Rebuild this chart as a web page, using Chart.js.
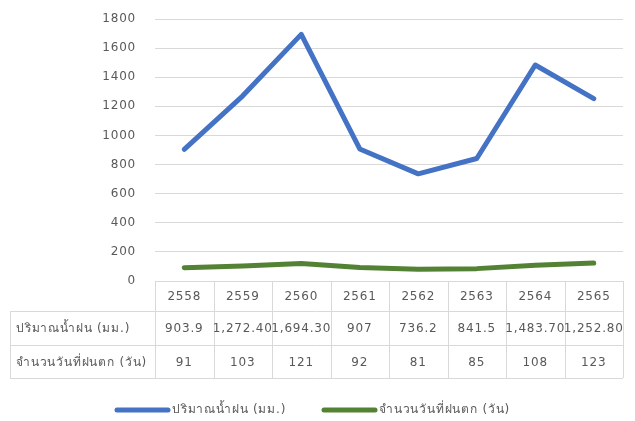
<!DOCTYPE html>
<html>
<head>
<meta charset="utf-8">
<script src="https://cdn.jsdelivr.net/npm/chart.js@4.4.1/dist/chart.umd.min.js"></script>
<style>
  html, body { margin: 0; padding: 0; background: #fff; }
  #wrap { width: 635px; height: 421px; }
</style>
</head>
<body>
<div id="wrap"><canvas id="rainChart" width="635" height="421"></canvas></div>
<script>
// ข้อมูล
const years = ["2558", "2559", "2560", "2561", "2562", "2563", "2564", "2565"];
const rainfall = [903.9, 1272.4, 1694.3, 907, 736.2, 841.5, 1483.7, 1252.8];
const rainDays = [91, 103, 121, 92, 81, 85, 108, 123];
// ข้อความในตาราง (ตามที่แสดงในรูป)
const rainfallText = ["903.9", "1,272.40", "1,694.30", "907", "736.2", "841.5", "1,483.70", "1,252.80"];
const rainDaysText = ["91", "103", "121", "92", "81", "85", "108", "123"];
const seriesNames = ["ปริมาณน้ำฝน (มม.)", "จำนวนวันที่ฝนตก (วัน)"];
const seriesColors = ["#4472C4", "#548235"];

const FONT = "'DejaVu Sans', 'Noto Sans', sans-serif";
const GRAY = "#595959";
const GRID = "#d9d9d9";

// ระยะห่างตัวอักษรให้ใกล้กับต้นฉบับ
const spacing = {
    id: "spacing",
    beforeDraw(chart) {
        chart.ctx.letterSpacing = "0.8px";
    }
};

// ตารางข้อมูลใต้กราฟ + คำอธิบาย
const dataTable = {
    id: "dataTable",
    afterDraw(chart) {
        const ctx = chart.ctx;
        const x = chart.scales.x;
        const area = chart.chartArea;
        const colW = (x.right - x.left) / years.length;
        const left = 10;
        const rows = [area.bottom, 311, 345, 378];

        ctx.save();
        ctx.strokeStyle = GRID;
        ctx.lineWidth = 1;
        ctx.beginPath();
        ctx.moveTo(area.left, rows[0] + 0.5);
        ctx.lineTo(area.right, rows[0] + 0.5);
        for (let r = 1; r < rows.length; r++) {
            ctx.moveTo(left, rows[r] + 0.5);
            ctx.lineTo(area.right, rows[r] + 0.5);
        }
        ctx.moveTo(left + 0.5, rows[1]);
        ctx.lineTo(left + 0.5, rows[3]);
        for (let i = 0; i <= years.length; i++) {
            const px = Math.round(x.left + i * colW) + 0.5;
            ctx.moveTo(px, rows[0]);
            ctx.lineTo(px, rows[3]);
        }
        ctx.stroke();

        ctx.fillStyle = GRAY;
        ctx.font = "12px " + FONT;
        ctx.letterSpacing = "0.8px";
        ctx.textBaseline = "middle";
        ctx.textAlign = "center";
        const rowMid = r => (rows[r] + rows[r + 1]) / 2 + 1;
        years.forEach((y, i) => {
            const cx = x.getPixelForValue(i);
            ctx.fillText(y, cx, rowMid(0));
            ctx.fillText(rainfallText[i], cx, rowMid(1));
            ctx.fillText(rainDaysText[i], cx, rowMid(2));
        });
        ctx.textAlign = "left";
        ctx.fillText(seriesNames[0], 16, rowMid(1));
        ctx.fillText(seriesNames[1], 16, rowMid(2));

        // คำอธิบาย
        const legendY = 410;
        const items = [[115, 0], [322, 1]];
        items.forEach(([lx, k]) => {
            ctx.strokeStyle = seriesColors[k];
            ctx.lineWidth = 5;
            ctx.lineCap = "round";
            ctx.beginPath();
            ctx.moveTo(lx + 2, legendY);
            ctx.lineTo(lx + 53, legendY);
            ctx.stroke();
            ctx.fillText(seriesNames[k], lx + 57, legendY);
        });
        ctx.restore();
    }
};

new Chart(document.getElementById("rainChart"), {
    type: "line",
    data: {
        labels: years,
        datasets: [{
            label: seriesNames[0],
            data: rainfall,
            borderColor: seriesColors[0],
            backgroundColor: seriesColors[0],
            borderWidth: 5,
            pointRadius: 0,
            tension: 0,
            borderCapStyle: "round",
            borderJoinStyle: "round"
        }, {
            label: seriesNames[1],
            data: rainDays,
            borderColor: seriesColors[1],
            backgroundColor: seriesColors[1],
            borderWidth: 5,
            pointRadius: 0,
            tension: 0,
            borderCapStyle: "round",
            borderJoinStyle: "round"
        }]
    },
    options: {
        responsive: false,
        animation: false,
        layout: { padding: { left: 0, right: 12, top: 19, bottom: 140 } },
        plugins: {
            legend: { display: false },
            tooltip: { enabled: false }
        },
        scales: {
            x: {
                offset: true,
                ticks: { display: false },
                grid: { display: false },
                border: { display: false },
                afterFit: s => { s.height = 0; }
            },
            y: {
                min: 0,
                max: 1800,
                ticks: {
                    stepSize: 200,
                    color: GRAY,
                    padding: 19,
                    font: { family: FONT, size: 12 },
                    callback: v => String(v)
                },
                grid: { color: GRID, drawTicks: false },
                border: { display: false },
                afterFit: s => {
                    s.width = 155;
                    s.paddingTop = 0;
                    s.paddingBottom = 0;
                }
            }
        }
    },
    plugins: [spacing, dataTable]
});
</script>
</body>
</html>
